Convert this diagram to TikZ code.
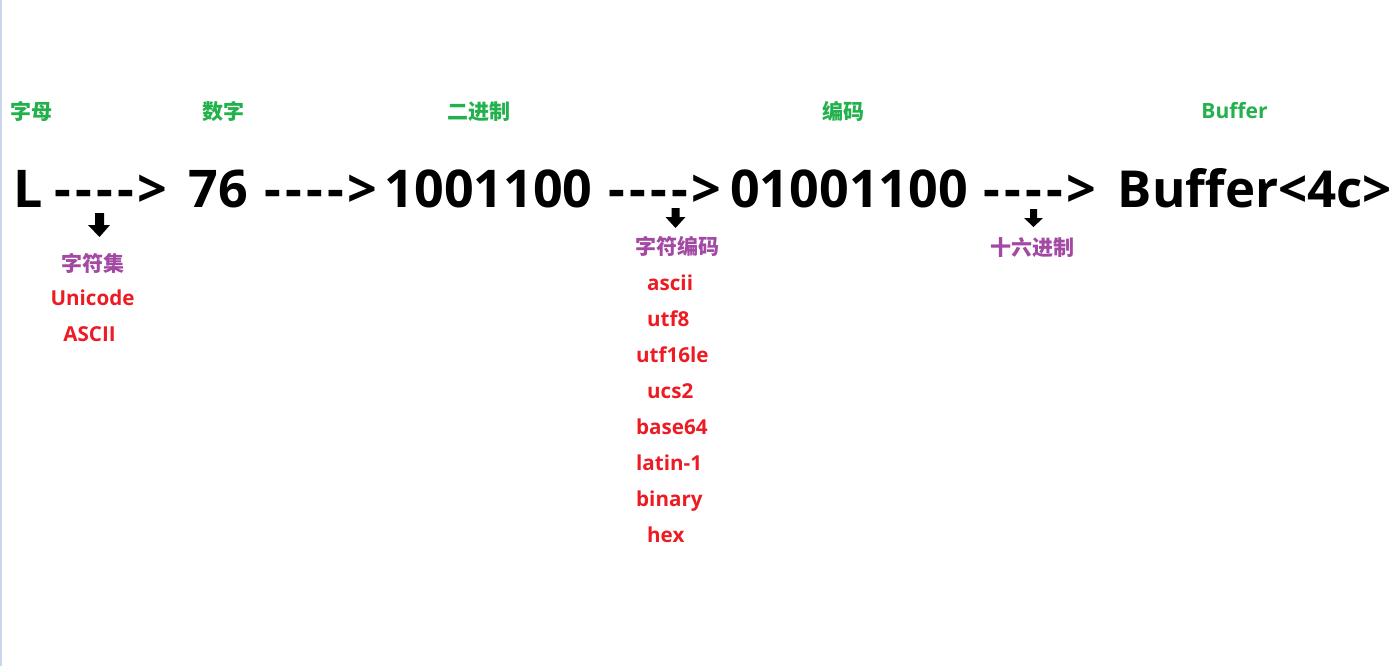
\documentclass[tikz,border=0pt]{standalone}
\usepackage{fontspec}
\setmainfont{Open Sans}
\newfontfamily\cjk{Noto Sans CJK SC}
\newfontfamily\dashfont{Open Sans}[LetterSpace=8]
\definecolor{lblgreen}{HTML}{22B14C}
\definecolor{lblpurple}{HTML}{A349A4}
\definecolor{lblred}{HTML}{ED1C24}
\definecolor{edgeblue}{HTML}{C8D7EA}
\tikzset{
  mainstep/.style={inner sep=0pt, anchor=base, font=\fontsize{52}{52}\selectfont\bfseries},
  arrowtext/.style={inner sep=0pt, anchor=base, font=\dashfont\fontsize{52}{52}\selectfont\bfseries},
  greenlbl/.style={inner sep=0pt, anchor=base, text=lblgreen, font=\fontsize{21}{21}\selectfont\bfseries},
  greencjk/.style={inner sep=0pt, anchor=base, text=lblgreen, font=\cjk\fontsize{21}{21}\selectfont\bfseries},
  purplecjk/.style={inner sep=0pt, anchor=base, text=lblpurple, font=\cjk\fontsize{21}{21}\selectfont\bfseries},
  redlbl/.style={inner sep=0pt, anchor=base, text=lblred, font=\fontsize{20.6}{21}\selectfont\bfseries},
  redleft/.style={redlbl, anchor=base west},
  blockarrow/.style={fill=black, draw=none}
}
\begin{document}
\begin{tikzpicture}[x=1pt, y=-1pt]
\fill[white] (0,0) rectangle (1394,666);
\useasboundingbox (0,0) rectangle (1394,666);
\fill[edgeblue] (0,0) rectangle (1.5,666);

% green headers
\node[greencjk] (hLetter) at (31,120) {字母};
\node[greencjk] (hNumber) at (223,120) {数字};
\node[greencjk] (hBinary) at (479,120) {二进制};
\node[greencjk] (hEncode) at (843.5,120) {编码};
\node[greenlbl] (hBuffer) at (1234.5,118.5) {Buffer};

% main line
\node[mainstep] (sL) at (28,207) {L};
\node[arrowtext] (a1) at (111,207) {---->};
\node[mainstep] (s76) at (218.5,207) {76};
\node[arrowtext] (a2) at (321,207) {---->};
\node[mainstep] (sBin) at (488.5,207) {1001100};
\node[arrowtext] (a3) at (665,207) {---->};
\node[mainstep] (sEnc) at (849,207) {01001100};
\node[arrowtext] (a4) at (1040,207) {---->};
\node[mainstep, font=\fontsize{51}{51}\selectfont\bfseries] (sBuf) at (1255,207) {Buffer<4c>};

% block arrows
\fill[blockarrow] (95,213) -- (104,213) -- (104,225) -- (110,225) -- (99.5,237) -- (88,225) -- (95,225) -- cycle;
\fill[blockarrow] (671.5,208) -- (679.5,208) -- (679.5,217) -- (685.5,217) -- (675.5,228) -- (665.5,217) -- (671.5,217) -- cycle;
\fill[blockarrow] (1030,209) -- (1037,209) -- (1037,218) -- (1043,218) -- (1033.5,227) -- (1024,218) -- (1030,218) -- cycle;

% purple labels
\node[purplecjk] (pCharset) at (92.5,271.5) {字符集};
\node[purplecjk] (pCharEnc) at (677,254.5) {字符编码};
\node[purplecjk] (pHex) at (1032,255) {十六进制};

% red labels under charset
\node[redlbl] (rUnicode) at (92.5,305) {Unicode};
\node[redlbl] (rASCII) at (89.5,341) {ASCII};

% encodings list
\node[redleft] (eAscii) at (647,290) {ascii};
\node[redleft] (eUtf8) at (647,326) {utf8};
\node[redleft] (eUtf16) at (636,362) {utf16le};
\node[redleft] (eUcs2) at (647,398) {ucs2};
\node[redleft] (eBase64) at (636,434) {base64};
\node[redleft] (eLatin) at (636,470) {latin-1};
\node[redleft] (eBinary) at (636,506) {binary};
\node[redleft] (eHex) at (647,542) {hex};
\end{tikzpicture}
\end{document}
